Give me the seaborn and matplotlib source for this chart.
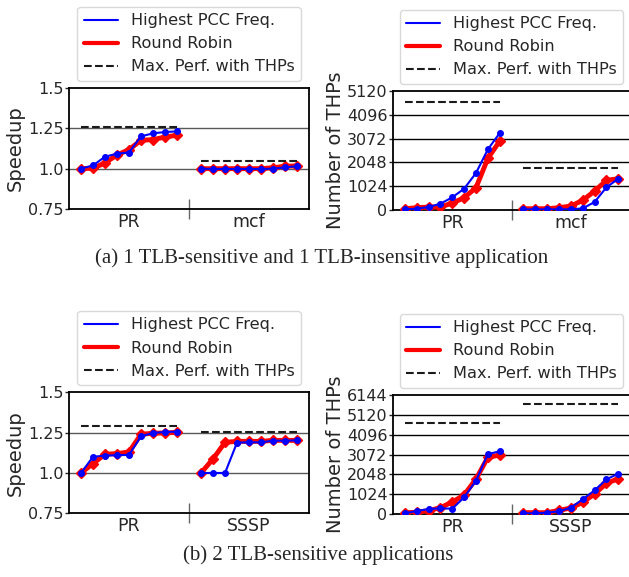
import pandas as pd
import matplotlib.pyplot as plt
import seaborn as sns
from matplotlib.lines import Line2D

sns.set_theme(style='white')
plt.rcParams['font.family'] = ['DejaVu Sans']

# Each app gets 9 steps, the second app is shifted right by GAP
STEPS = list(range(9))
GAP = 10

# (a) 1 TLB-sensitive + 1 TLB-insensitive
a_apps = ['PR', 'mcf']
a_speed_pcc = [[1.00, 1.02, 1.074, 1.093, 1.10, 1.20, 1.219, 1.227, 1.231],
               [1.00, 0.998, 0.998, 0.998, 0.998, 0.998, 1.0, 1.008, 1.015]]
a_speed_rr = [[1.00, 1.003, 1.035, 1.085, 1.118, 1.176, 1.18, 1.196, 1.207],
              [1.00, 1.00, 1.00, 1.00, 1.00, 1.00, 1.006, 1.015, 1.017]]
a_speed_best = [1.26, 1.045]
a_thp_pcc = [[29, 57, 129, 272, 545, 918, 1592, 2610, 3313],
             [29, 29, 29, 29, 29, 72, 344, 975, 1348]]
a_thp_rr = [[57, 100, 129, 129, 300, 530, 961, 2223, 2968],
            [57, 57, 57, 100, 172, 416, 817, 1276, 1348]]
a_thp_best = [4660, 1792]

# (b) 2 TLB-sensitive
b_apps = ['PR', 'SSSP']
b_speed_pcc = [[1.00, 1.10, 1.108, 1.11, 1.112, 1.227, 1.248, 1.254, 1.256],
               [1.00, 1.00, 1.00, 1.188, 1.19, 1.19, 1.20, 1.20, 1.202]]
b_speed_rr = [[1.00, 1.058, 1.116, 1.12, 1.13, 1.24, 1.246, 1.248, 1.252],
              [1.00, 1.087, 1.19, 1.196, 1.196, 1.196, 1.202, 1.202, 1.202]]
b_speed_best = [1.29, 1.254]
b_thp_pcc = [[34, 155, 258, 292, 275, 860, 1720, 3096, 3233],
             [34, 34, 69, 138, 327, 757, 1221, 1789, 2081]]
b_thp_rr = [[69, 86, 172, 327, 619, 980, 1806, 2924, 3044],
            [69, 69, 69, 189, 310, 602, 1032, 1582, 1823]]
b_thp_best = [4678, 5676]

PCC_COLOR = '#0000ff'
RR_COLOR = '#ff0000'


def to_frame(apps, values):
    rows = []
    for g, (app, vals) in enumerate(zip(apps, values)):
        for s, v in zip(STEPS, vals):
            rows.append({'x': g * GAP + s, 'value': v, 'app': app})
    return pd.DataFrame(rows)


def draw_panel(ax, apps, pcc, rr, best):
    # Round robin underneath, thick red with diamonds
    sns.lineplot(data=to_frame(apps, rr), x='x', y='value', units='app',
                 estimator=None, color=RR_COLOR, lw=3.5, marker='D',
                 markersize=5.5, mec=RR_COLOR, mew=1, ax=ax, legend=False, zorder=3)
    sns.lineplot(data=to_frame(apps, pcc), x='x', y='value', units='app',
                 estimator=None, color=PCC_COLOR, lw=1.5, marker='o',
                 markersize=4, mec=PCC_COLOR, mew=1, ax=ax, legend=False, zorder=4)
    for g, b in enumerate(best):
        ax.hlines(b, g * GAP + STEPS[0], g * GAP + STEPS[-1], colors='k',
                  linestyles='--', lw=1.5, zorder=3)

    ax.set_xlim(-1, GAP + STEPS[-1] + 1)
    ax.set_xticks([g * GAP + STEPS[-1] / 2 for g in range(len(apps))])
    ax.set_xticklabels(apps, fontsize=12.5)
    ax.set_xticks([GAP - 1], minor=True)
    ax.tick_params(axis='x', which='major', direction='in', length=5,
                   width=1, color='0.4', pad=3)
    ax.tick_params(axis='x', which='minor', direction='inout', length=14,
                   width=1, color='0.4', bottom=True)
    ax.tick_params(axis='y', which='major', direction='out', length=3,
                   width=1, left=True, labelsize=11.5, pad=1)
    ax.set_xlabel('')
    for sp in ax.spines.values():
        sp.set_color('black')
        sp.set_linewidth(1.3)

    handles = [Line2D([], [], color=PCC_COLOR, lw=1.5),
               Line2D([], [], color=RR_COLOR, lw=3),
               Line2D([], [], color='k', lw=1.5, ls='--')]
    labels = ['Highest PCC Freq.', 'Round Robin', 'Max. Perf. with THPs']
    ax.legend(handles, labels, loc='lower center', bbox_to_anchor=(0.5, 1.0),
              fontsize=11.6, borderaxespad=0.45, frameon=True, fancybox=True,
              edgecolor='0.85', framealpha=1, handlelength=2.1)


def speedup_axis(ax):
    ax.set_ylim(0.75, 1.5)
    ax.set_yticks([0.75, 1.0, 1.25, 1.5])
    ax.set_yticklabels(['0.75', '1.0', '1.25', '1.5'])
    for v in [1.0, 1.25]:
        ax.axhline(v, color='0.35', lw=1, zorder=1)
    ax.set_ylabel('Speedup', fontsize=14, labelpad=2)


def thp_axis(ax, top):
    ticks = list(range(0, top + 1, 1024))
    ax.set_ylim(0, top)
    ax.set_yticks(ticks)
    for v in ticks[1:-1]:
        ax.axhline(v, color='black', lw=1, zorder=1)
    ax.set_ylabel('Number of THPs', fontsize=14, labelpad=1)


fig = plt.figure(figsize=(6.29, 5.77), dpi=100)

ax1 = fig.add_axes([0.1097, 0.6378, 0.3816, 0.2097])
ax2 = fig.add_axes([0.6248, 0.6360, 0.3770, 0.2062])
ax3 = fig.add_axes([0.1097, 0.1104, 0.3816, 0.2097])
ax4 = fig.add_axes([0.6248, 0.1092, 0.3770, 0.2062])

draw_panel(ax1, a_apps, a_speed_pcc, a_speed_rr, a_speed_best)
speedup_axis(ax1)
draw_panel(ax2, a_apps, a_thp_pcc, a_thp_rr, a_thp_best)
thp_axis(ax2, 5120)
draw_panel(ax3, b_apps, b_speed_pcc, b_speed_rr, b_speed_best)
speedup_axis(ax3)
draw_panel(ax4, b_apps, b_thp_pcc, b_thp_rr, b_thp_best)
thp_axis(ax4, 6144)

fig.text(0.511, 1 - 258 / 577, '(a) 1 TLB-sensitive and 1 TLB-insensitive application',
         ha='center', va='center', fontsize=15, family='Liberation Serif')
fig.text(0.506, 1 - 555 / 577, '(b) 2 TLB-sensitive applications',
         ha='center', va='center', fontsize=15, family='Liberation Serif')

fig.savefig('out.png', dpi=100)
